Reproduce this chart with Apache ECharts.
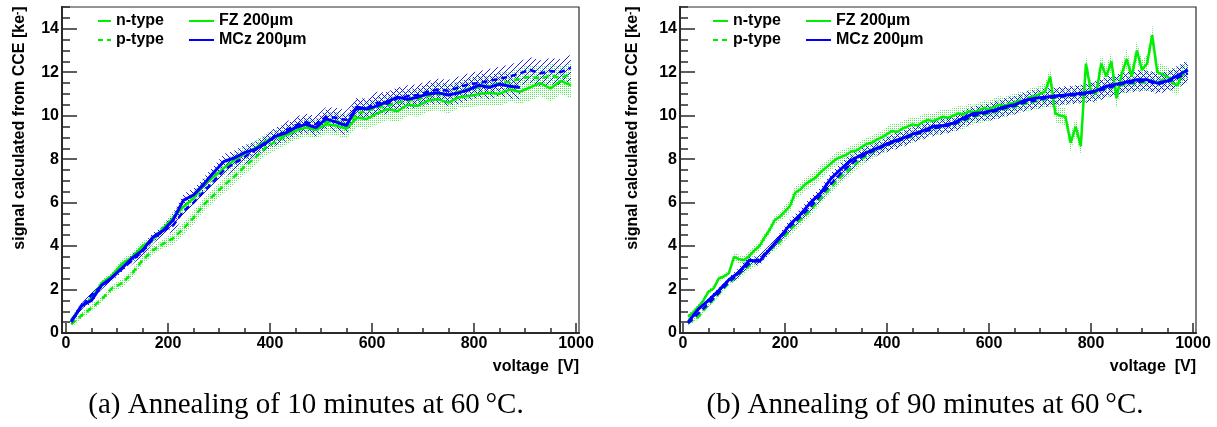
<!DOCTYPE html>
<html><head><meta charset="utf-8">
<script src="https://cdn.jsdelivr.net/npm/echarts@6/dist/echarts.min.js"></script>
<style>html,body{margin:0;padding:0;background:#fff}#c{width:1217px;height:427px}</style>
</head><body><div id="c"></div>
<script>
// ---------------- data ----------------
const voltage = [10,30,50,70,90,110,130,150,170,190,210,230,250,270,290,310,330,350,370,390,410,430,450,470,490,510,530,550,570,590,610,630,650,670,690,710,730,750,770,790,810,830,850,870,890,910,930,950,970,990];
const voltageFine = [10,20,30,40,50,60,70,80,90,100,110,120,130,140,150,160,170,180,190,200,210,220,230,240,250,260,270,280,290,300,310,320,330,340,350,360,370,380,390,400,410,420,430,440,450,460,470,480,490,500,510,520,530,540,550,560,570,580,590,600,610,620,630,640,650,660,670,680,690,700,710,720,730,740,750,760,770,780,790,800,810,820,830,840,850,860,870,880,890,900,910,920,930,940,950,960,970,980,990];

// (a) 10 minutes at 60 C
const a_FZ_n = [0.6,1.2,1.6,2.3,2.65,3.2,3.5,4.0,4.3,4.8, 5.3,5.8,6.2,6.8,7.2,7.6,7.95,8.25,8.5,8.8, 9.0,9.1,9.3,9.45,9.35,9.6,9.55,9.4,9.9,9.85, 10.1,10.3,10.2,10.5,10.45,10.7,10.75,10.6,10.85,10.9, 11.0,11.05,11.0,11.2,11.1,11.3,11.5,11.25,11.6,11.4];
const a_FZ_p = [0.4,0.8,1.15,1.55,2.05,2.3,2.75,3.35,3.8,4.1, 4.35,4.8,5.3,5.9,6.35,6.8,7.2,7.65,8.05,8.5, 8.8,9.05,9.3,9.5,9.4,9.7,9.75,9.6,10.1,10.2, 10.4,10.45,10.6,10.7,10.75,10.9,11.0,10.95,11.1,11.25, 11.3,11.35,11.5,11.55,11.7,11.8,11.7,11.85,11.75,11.9];
const a_MCz_n = [0.5,1.25,1.5,2.2,2.55,3.0,3.45,3.8,4.4,4.7, 5.2,6.1,6.35,6.85,7.4,7.9,8.05,8.3,8.45,8.7, 9.05,9.2,9.45,9.6,9.45,9.85,9.7,9.55,10.4,10.3, 10.45,10.65,10.85,10.75,10.85,11.0,11.05,10.95,11.05,11.2, 11.4,11.3,11.45,11.35,11.3];
const a_MCz_p = [0.55,1.2,1.75,2.15,2.55,2.95,3.35,3.75,4.3,4.7, 4.95,5.6,6.0,6.5,7.0,7.5,7.8,8.1,8.4,8.75, 9.0,9.3,9.55,9.7,9.6,9.95,9.9,9.8,10.3,10.35, 10.6,10.55,10.8,10.9,10.95,11.1,11.2,11.15,11.3,11.45, 11.5,11.6,11.7,11.8,11.95,12.1,11.95,12.05,12.0,12.2];

// (b) 90 minutes at 60 C  (FZ n-type read on the 10 V grid)
const b_FZ_n = [0.75,0.95,1.2,1.5,1.9,2.05,2.5,2.6,2.75,3.5, 3.4,3.35,3.55,3.8,4.0,4.4,4.75,5.2,5.35,5.6, 5.85,6.45,6.6,6.85,7.0,7.15,7.4,7.6,7.8,8.0, 8.1,8.2,8.35,8.4,8.55,8.7,8.75,8.9,9.0,9.15, 9.3,9.25,9.4,9.5,9.6,9.55,9.7,9.8,9.75,9.85, 9.95,9.9,10.0,10.1,10.05,10.2,10.15,10.25,10.35,10.3, 10.4,10.5,10.45,10.55,10.6,10.7,10.65,10.85,10.9,11.0, 11.1,11.8,10.1,10.0,9.95,8.75,9.5,8.6,12.4,11.1, 11.0,12.4,11.8,12.5,10.8,11.9,12.6,11.8,13.0,12.1, 12.4,13.7,12.0,11.9,11.8,11.5,11.4,12.0,12.1];
const b_FZ_p = [0.45,0.75,1.3,1.8,2.3,2.7,3.1,3.4,3.8,4.2, 4.75,5.2,5.65,6.2,6.7,7.2,7.6,8.0,8.3,8.55, 8.75,8.9,9.05,9.25,9.4,9.5,9.6,9.75,9.95,10.05, 10.15,10.3,10.4,10.55,10.65,10.75,10.85,10.9,10.95,11.0, 11.1,11.25,11.35,11.45,11.5,11.55,11.6,11.65,11.8,11.95];
const b_MCz_n = [0.5,1.1,1.5,1.95,2.45,2.8,3.35,3.3,3.85,4.4, 5.0,5.45,6.0,6.45,7.1,7.55,7.95,8.2,8.4,8.6, 8.8,8.95,9.15,9.3,9.5,9.55,9.65,9.9,10.1,10.15, 10.25,10.4,10.5,10.7,10.8,10.85,10.9,10.95,11.0,11.05, 11.15,11.35,11.45,11.55,11.65,11.65,11.5,11.6,11.85,12.1];
const b_MCz_p = [0.45,0.9,1.35,1.85,2.35,2.75,3.2,3.4,3.85,4.35, 4.9,5.35,5.8,6.35,6.85,7.35,7.8,8.1,8.35,8.55, 8.75,8.9,9.1,9.25,9.4,9.5,9.6,9.8,10.0,10.1, 10.2,10.35,10.45,10.6,10.7,10.8,10.85,10.9,10.95,11.0, 11.1,11.25,11.4,11.5,11.55,11.6,11.45,11.55,11.75,11.95];

// uncertainty half-widths, one value per 100 V bin (0-100, 100-200, ... 900-1000)
const a_err_FZ_n = [0.15,0.2,0.3,0.35,0.4,0.45,0.5,0.5,0.55,0.6];
const a_err_FZ_p = [0.15,0.2,0.3,0.35,0.4,0.45,0.45,0.5,0.5,0.55];
const a_err_MCz_n = [0.15,0.2,0.3,0.35,0.4,0.45,0.45,0.5,0.55,0.6];
const a_err_MCz_p = [0.15,0.2,0.3,0.35,0.4,0.45,0.5,0.5,0.55,0.6];
const b_err_FZ_n = [0.12,0.2,0.3,0.3,0.35,0.35,0.4,0.4,0.45,0.45];
const b_err_FZ_p = [0.12,0.2,0.25,0.3,0.3,0.35,0.35,0.4,0.4,0.45];
const b_err_MCz_n = [0.12,0.2,0.25,0.3,0.35,0.35,0.4,0.4,0.45,0.45];
const b_err_MCz_p = [0.12,0.2,0.25,0.3,0.35,0.35,0.4,0.4,0.45,0.45];

const legendTypes = ['n-type','p-type'];
const legendMaterials = ['FZ 200\u00b5m','MCz 200\u00b5m'];
const captions = ['(a) Annealing of 10 minutes at 60\u2009\u00b0C.','(b) Annealing of 90 minutes at 60\u2009\u00b0C.'];
const xTitle = 'voltage  [V]';
const yTitle = 'signal calculated from CCE [ke{sup|-}]';
const xTickStep = 200, yTickStep = 2;

// ---------------- styling ----------------
const GREEN = '#00ee00', BLUE = '#0000ff', AX = '#2a2a2a';
const FONT = '"Liberation Sans", Arial, sans-serif';

function makePattern(kind) {
  const s = kind === 'dots' ? 2 : 6;
  const c = document.createElement('canvas'); c.width = s; c.height = s;
  const g = c.getContext('2d');
  const img = g.createImageData(s, s);
  for (let y = 0; y < s; y++) for (let x = 0; x < s; x++) {
    let on = false, col = [0,0,255];
    if (kind === 'dots') { on = (x === 0 && y === 0); col = [40,230,40]; }
    else if (kind === 'fwd') on = ((x + y) % s === 0);
    else on = (((x - y) % s) + s) % s === 0;
    if (on) { const k = (y*s+x)*4; img.data[k]=col[0]; img.data[k+1]=col[1]; img.data[k+2]=col[2]; img.data[k+3]=kind==='dots'?200:230; }
  }
  g.putImageData(img, 0, 0);
  return { image: c, repeat: 'repeat' };
}
const PAT_GREEN = makePattern('dots');
const PAT_FWD = makePattern('fwd');
const PAT_BACK = makePattern('back');

function band(xs, ys, errBins, fill, xi, yi) {
  return {
    type: 'custom', xAxisIndex: xi, yAxisIndex: yi, z: 1, silent: true, clip: true,
    data: [[xs[0], ys[0]]],
    renderItem: function (params, api) {
      if (params.dataIndex !== 0) return null;
      const up = [], lo = [];
      for (let i = 0; i < ys.length; i++) {
        const e = errBins[Math.min(9, Math.floor(xs[i] / 100))];
        up.push(api.coord([xs[i], ys[i] + e]));
        lo.push(api.coord([xs[i], ys[i] - e]));
      }
      return { type: 'polygon', shape: { points: up.concat(lo.reverse()) }, style: { fill: fill, stroke: null } };
    }
  };
}
function line(name, xs, ys, color, width, dashed, xi, yi) {
  return {
    type: 'line', name: name, xAxisIndex: xi, yAxisIndex: yi, z: 3, silent: true,
    symbol: 'none', data: ys.map((v, i) => [xs[i], v]),
    lineStyle: { color: color, width: width, type: dashed ? [6, 4] : 'solid' },
    itemStyle: { color: color }
  };
}

const panels = [
  { frameLeft: 62, frameWidth: 517, dataLeft: 66, dataWidth: 510, nameGapY: 34, cap: 306,
    FZn: [voltage, a_FZ_n, a_err_FZ_n], FZp: [voltage, a_FZ_p, a_err_FZ_p],
    MCzn: [voltage, a_MCz_n, a_err_MCz_n], MCzp: [voltage, a_MCz_p, a_err_MCz_p],
    leg1: 97, leg1w: 13, leg2: 188, leg2w: 25 },
  { frameLeft: 680, frameWidth: 516, dataLeft: 683, dataWidth: 510, nameGapY: 39, cap: 925,
    FZn: [voltageFine, b_FZ_n, b_err_FZ_n], FZp: [voltage, b_FZ_p, b_err_FZ_p],
    MCzn: [voltage, b_MCz_n, b_err_MCz_n], MCzp: [voltage, b_MCz_p, b_err_MCz_p],
    leg1: 712, leg1w: 15, leg2: 805, leg2w: 25 }
];

const TOP = 7, HEIGHT = 326;
const grid = [], xAxis = [], yAxis = [], series = [], legend = [], graphic = [];
const labelStyle = { fontFamily: FONT, fontWeight: 'bold', fontSize: 16, color: '#000' };
const plain = v => String(v);

panels.forEach((p, k) => {
  const gF = grid.length;
  grid.push({ left: p.frameLeft, top: TOP, width: p.frameWidth, height: HEIGHT, show: true, borderColor: AX, borderWidth: 1.2, backgroundColor: 'transparent' });
  const gD = grid.length;
  grid.push({ left: p.dataLeft, top: TOP, width: p.dataWidth, height: HEIGHT });

  xAxis.push({ type: 'value', gridIndex: gF, position: 'bottom', min: -8, max: 1006,
    axisLine: { show: true, onZero: false, lineStyle: { color: AX, width: 2 } },
    axisTick: { show: false }, axisLabel: { show: false }, splitLine: { show: false } });
  const xD = xAxis.length;
  xAxis.push({ type: 'value', gridIndex: gD, position: 'bottom', min: 0, max: 1000, interval: xTickStep,
    axisLine: { show: false, onZero: false },
    axisTick: { show: true, inside: true, length: 10, lineStyle: { color: AX, width: 1.5 } },
    minorTick: { show: true, splitNumber: 4, length: 5, lineStyle: { color: AX, width: 1.5 } },
    splitLine: { show: false },
    axisLabel: { ...labelStyle, margin: 3, formatter: plain },
    name: xTitle, nameLocation: 'end', nameGap: 3,
    nameTextStyle: { ...labelStyle, align: 'right', verticalAlign: 'top', padding: [26, 0, 0, 0] } });

  yAxis.push({ type: 'value', gridIndex: gF, position: 'left', offset: 0, min: 0, max: 15, interval: 0.5,
    axisLine: { show: true, onZero: false, lineStyle: { color: AX, width: 2 } },
    axisTick: { show: true, inside: true, length: 8, lineStyle: { color: AX, width: 1.5 } },
    axisLabel: { show: false }, splitLine: { show: false } });
  yAxis.push({ type: 'value', gridIndex: gF, position: 'left', offset: 0, min: 0, max: 15, interval: yTickStep,
    axisLine: { show: true, onZero: false, lineStyle: { color: AX, width: 2 } },
    axisTick: { show: true, inside: true, length: 15, lineStyle: { color: AX, width: 1.5 } },
    axisLabel: { ...labelStyle, margin: 3, showMaxLabel: false, formatter: plain },
    splitLine: { show: false },
    name: yTitle, nameLocation: 'middle', nameRotate: 90, nameGap: p.nameGapY,
    nameTextStyle: { ...labelStyle, padding: [0, 0, 0, 84],
      rich: { sup: { fontFamily: FONT, fontWeight: 'bold', fontSize: 10, verticalAlign: 'top', lineHeight: 10 } } } });
  const yD = yAxis.length;
  yAxis.push({ type: 'value', gridIndex: gD, position: 'left', min: 0, max: 15, show: false });

  series.push(band(p.FZp[0], p.FZp[1], p.FZp[2], PAT_GREEN, xD, yD));
  series.push(band(p.FZn[0], p.FZn[1], p.FZn[2], PAT_GREEN, xD, yD));
  series.push(band(p.MCzp[0], p.MCzp[1], p.MCzp[2], PAT_FWD, xD, yD));
  series.push(band(p.MCzn[0], p.MCzn[1], p.MCzn[2], PAT_BACK, xD, yD));
  series.push(line('FZ p ' + k, p.FZp[0], p.FZp[1], GREEN, 2.5, true, xD, yD));
  series.push(line('FZ n ' + k, p.FZn[0], p.FZn[1], GREEN, 2.5, false, xD, yD));
  series.push(line('MCz p ' + k, p.MCzp[0], p.MCzp[1], BLUE, 2.5, true, xD, yD));
  series.push(line('MCz n ' + k, p.MCzn[0], p.MCzn[1], BLUE, 3, false, xD, yD));

  const legText = { ...labelStyle, lineHeight: 16 };
  const legCommon = { top: 13, orient: 'vertical', padding: 0, itemGap: 3, itemHeight: 14, selectedMode: false,
    textStyle: legText, itemStyle: { opacity: 0, borderWidth: 0 } };
  legend.push({ ...legCommon, left: p.leg1, itemWidth: p.leg1w, data: legendTypes });
  legend.push({ ...legCommon, left: p.leg2, itemWidth: p.leg2w, data: legendMaterials });

  graphic.push({ type: 'text', x: p.cap, y: 405, silent: true,
    style: { text: captions[k], fill: '#000', fontFamily: '"Liberation Serif", "Times New Roman", serif', fontSize: 29, align: 'center', verticalAlign: 'middle' } });
});

// legend-only series
series.push({ type: 'line', name: 'n-type', data: [], xAxisIndex: 1, yAxisIndex: 2, symbol: 'none', lineStyle: { color: GREEN, width: 3 }, itemStyle: { color: GREEN } });
series.push({ type: 'line', name: 'p-type', data: [], xAxisIndex: 1, yAxisIndex: 2, symbol: 'none', lineStyle: { color: GREEN, width: 3, type: [5, 4] }, itemStyle: { color: GREEN } });
series.push({ type: 'line', name: legendMaterials[0], data: [], xAxisIndex: 1, yAxisIndex: 2, symbol: 'none', lineStyle: { color: GREEN, width: 3 }, itemStyle: { color: GREEN } });
series.push({ type: 'line', name: legendMaterials[1], data: [], xAxisIndex: 1, yAxisIndex: 2, symbol: 'none', lineStyle: { color: BLUE, width: 4 }, itemStyle: { color: BLUE } });

const chart = echarts.init(document.getElementById('c'), null, { renderer: 'canvas' });
chart.setOption({ animation: false, backgroundColor: '#fff', grid, xAxis, yAxis, series, legend, graphic });
</script>
</body></html>
